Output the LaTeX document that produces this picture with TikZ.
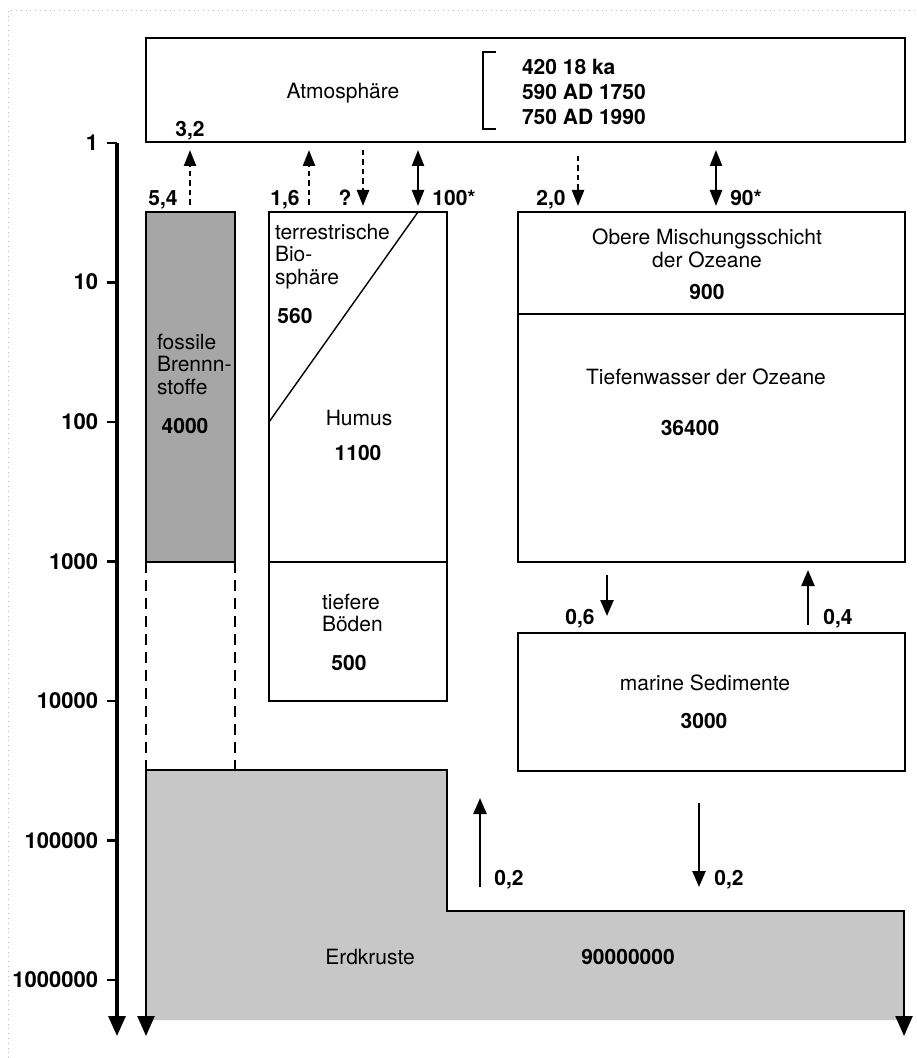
\documentclass[tikz,border=0pt]{standalone}
\usepackage{fontspec}
\setmainfont{TeX Gyre Heros}
\usetikzlibrary{arrows.meta}
\tikzset{
  t/.style={font=\fontsize{10.5}{11.25}\selectfont, inner sep=0pt, outer sep=0pt, anchor=base, yshift=-3.75pt},
  tb/.style={t, font=\fontsize{10.5}{11.25}\selectfont\bfseries},
  tk/.style={t, font=\fontsize{11}{12}\selectfont\bfseries},
  ml/.style={font=\fontsize{10.5}{11.25}\selectfont, inner sep=0pt, outer sep=0pt},
  box/.style={draw, line width=0.8pt, anchor=north west, inner sep=0pt, outer sep=0pt},
  thinline/.style={line width=0.7pt},
  flux/.style={line width=1.2pt, -{Triangle[length=8pt,width=6pt]}},
  dflux/.style={flux, dash pattern=on 2.75pt off 2pt},
  dflux2/.style={line width=1.2pt, {Triangle[length=8pt,width=6pt]}-{Triangle[length=8pt,width=6pt]}},
  sflux/.style={line width=1.2pt, -{Triangle[length=8pt,width=6.5pt]}},
  bigtip/.style={-{Triangle[length=10pt,width=8.5pt]}},
  ghost/.style={dash pattern=on 5.5pt off 3.5pt, line width=0.9pt},
}
\begin{document}
\begin{tikzpicture}[x=0.5pt,y=-0.5pt]
\useasboundingbox (0,0) rectangle (916,1058);
% scan frame
\draw[gray!55, dotted, line width=0.4pt] (8,1058) -- (8,10) -- (916,10);

% column coordinates for the fluxes
\coordinate (c32) at (190,0);
\coordinate (c16) at (309,0);
\coordinate (cq) at (363,0);
\coordinate (c100) at (418,0);
\coordinate (c20) at (578,0);
\coordinate (c90) at (716,0);
\coordinate (c06) at (607,0);
\coordinate (c04) at (808,0);
\coordinate (c02u) at (480,0);
\coordinate (c02d) at (699,0);
\coordinate (lev100) at (0,422);
\coordinate (lev1000) at (0,562);
\coordinate (split) at (0,314);

% axis
\draw[line width=1.6pt, bigtip] (117,143) -- (117,1036);
\foreach \lab [count=\i from 0] in {1,10,100,1000,10000,100000,1000000} {
  \draw[line width=1.2pt] (107,143+139.5*\i) -- (117,143+139.5*\i);
  \node[tk, anchor=base east] (tick\i) at (98,143+139.5*\i) {\lab};
}

% Erdkruste
\fill[black!22] (146,770) -- (447,770) -- (447,911) -- (904,911) -- (904,1020) -- (146,1020) -- cycle;
\coordinate (crusttop) at (700,911);
\coordinate (crustleft) at (146,770);
\draw[line width=1.2pt, {Triangle[length=10pt,width=8.5pt]}-{Triangle[length=10pt,width=8.5pt]}]
  (146,1036) -- (crustleft) -- (447,770) -- (447,911) -- (904,911) -- (904,1036);
\node[t] (erd) at (370,957) {Erdkruste};
\node[tb] (erdv) at (628,957) {90000000};

% Atmosphere
\node[box, minimum width=379.5pt, minimum height=52pt] (atm) at (146,38) {};
\node[t] (atml) at (343,91) {Atmosphäre};
\draw[thinline] (496,52) -- (483,52) -- (483,129) -- (496,129);
\node[tb, anchor=base west] (a1) at (522,67) {420 18 ka};
\node[tb, anchor=base west] (a2) at (522,92) {590 AD 1750};
\node[tb, anchor=base west] (a3) at (522,117) {750 AD 1990};
\node[tb] (f32) at (190,129) {3,2};

% fossil fuels
\node[box, fill=black!35, minimum width=44.5pt, minimum height=175pt] (fos) at (146,212) {};
\node[ml, align=left, anchor=north west] (fosl) at (157,334) {fossile\\Brennn-\\stoffe};
\node[tb] (fosv) at (185,426) {4000};
\draw[ghost] (fos.south west) -- (fos.south west |- crustleft);
\draw[ghost] (fos.south east) -- (fos.south east |- crustleft);
\node[tb] (f54) at (163,198) {5,4};
\draw[dflux, shorten <=3.5pt, shorten >=4pt] (fos.north -| c32) -- (atm.south -| c32);

% terrestrial
\node[box, fill=white, minimum width=89pt, minimum height=244.5pt] (ter) at (269,212) {};
\draw[thinline] (ter.west |- lev1000) -- (ter.east |- lev1000);
\draw[thinline] (ter.north -| c100) -- (ter.west |- lev100);
\node[ml, align=left, anchor=north west] (terl) at (275,224) {terrestrische\\Bio-\\sphäre};
\node[tb] (terv) at (295,316) {560};
\node[t] (hum) at (359,418) {Humus};
\node[tb] (humv) at (358,453) {1100};
\node[ml, align=left, anchor=north west] (tief) at (322,594) {tiefere\\Böden};
\node[tb] (tiefv) at (349,663) {500};
\node[tb] (f16) at (285,198) {1,6};
\node[tb] (fq) at (345,198) {?};
\node[tb] (f100) at (454,198) {100*};
\draw[dflux, shorten <=3.5pt, shorten >=4pt] (ter.north -| c16) -- (atm.south -| c16);
\draw[dflux, shorten <=4pt, shorten >=3pt] (atm.south -| cq) -- (ter.north -| cq);
\draw[dflux2, shorten <=4pt, shorten >=3pt] (atm.south -| c100) -- (ter.north -| c100);

% ocean
\node[box, minimum width=193.5pt, minimum height=175pt] (oce) at (518,212) {};
\draw[thinline] (oce.west |- split) -- (oce.east |- split);
\node[ml, align=center, anchor=north] (obl) at (707,229) {Obere Mischungsschicht\\der Ozeane};
\node[tb] (obv) at (707,292) {900};
\node[t] (tfl) at (706,377) {Tiefenwasser der Ozeane};
\node[tb] (tfv) at (690,428) {36400};
\node[tb] (f20) at (551,198) {2,0};
\node[tb] (f90) at (746,198) {90*};
\draw[dflux, shorten <=7pt, shorten >=3pt] (atm.south -| c20) -- (oce.north -| c20);
\draw[dflux2, shorten <=4pt, shorten >=3pt] (atm.south -| c90) -- (oce.north -| c90);

% marine sediments
\node[box, minimum width=193.5pt, minimum height=69pt] (sed) at (518,633) {};
\node[t] (sedl) at (705,683) {marine Sedimente};
\node[tb] (sedv) at (704,721) {3000};
\node[tb] (f06) at (580,617) {0,6};
\node[tb] (f04) at (838,617) {0,4};
\draw[sflux, shorten <=6.5pt, shorten >=8.5pt] (oce.south -| c06) -- (sed.north -| c06);
\draw[sflux, shorten <=4pt, shorten >=4pt] (sed.north -| c04) -- (oce.south -| c04);

% crust exchanges
\node[tb] (f02u) at (509,878) {0,2};
\node[tb] (f02d) at (729,878) {0,2};
\draw[sflux, shorten <=12pt, shorten >=13.5pt] (crusttop -| c02u) -- (sed.south -| c02u);
\draw[sflux, shorten <=16pt, shorten >=12pt] (sed.south -| c02d) -- (crusttop -| c02d);
\end{tikzpicture}
\end{document}
